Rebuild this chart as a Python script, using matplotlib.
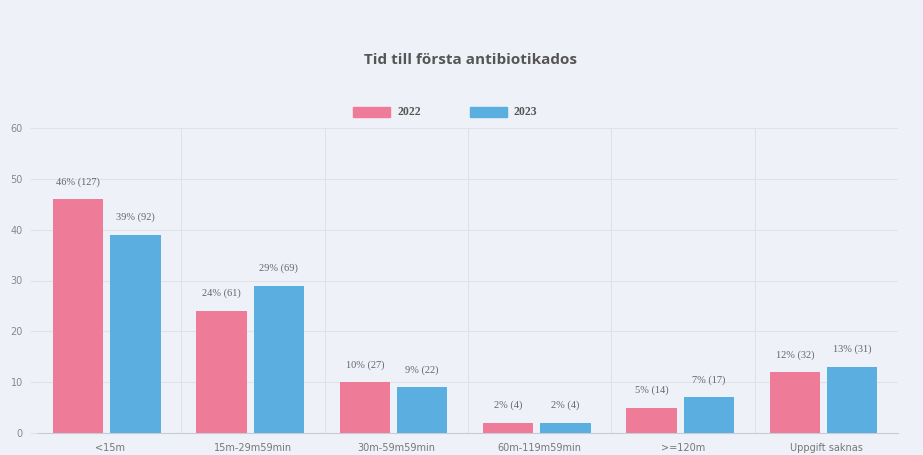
import matplotlib
matplotlib.use("Agg")
import matplotlib.pyplot as plt
import numpy as np
from matplotlib.patches import Rectangle

categories = ["<15m", "15m-29m59min", "30m-59m59min", "60m-119m59min", ">=120m", "Uppgift saknas"]
years = ["2022", "2023"]
pct_2022 = [46, 24, 10, 2, 5, 12]
cnt_2022 = [127, 61, 27, 4, 14, 32]
pct_2023 = [39, 29, 9, 2, 7, 13]
cnt_2023 = [92, 69, 22, 4, 17, 31]
y_ticks = [0, 10, 20, 30, 40, 50, 60]

bg = "#eff1f8"
pink = "#ee7b97"
blue = "#5aaee0"
grid_c = "#dfe2eb"
text_c = "#666666"

W, H = 923, 455
fig = plt.figure(figsize=(W / 100, H / 100), dpi=100, facecolor=bg)
ax = fig.add_axes([38 / W, 22 / H, 860 / W, 305 / H], facecolor=bg)

x = np.arange(len(categories))
off = 0.2
bw = 0.35
series = [(pct_2022, cnt_2022, pink), (pct_2023, cnt_2023, blue)]
for i, (pct, cnt, col) in enumerate(series):
    xs = x + (-off if i == 0 else off) - 0.02
    ax.bar(xs, pct, width=bw, color=col, zorder=3)
    for xi, p, c in zip(xs, pct, cnt):
        ax.annotate(f"{p}% ({c})", (xi, p), xytext=(0, 9), textcoords="offset points",
                    ha="center", va="bottom", fontsize=7.5, family="Liberation Serif",
                    color=text_c, zorder=4)

ax.set_xlim(-0.5, len(categories) - 0.5)
ax.set_ylim(0, 60)
ax.set_yticks(y_ticks)
ax.set_yticklabels([str(t) for t in y_ticks])
ax.set_xticks(x)
ax.set_xticklabels(categories)
ax.tick_params(axis="y", length=6, color=grid_c, labelsize=7, labelcolor="#888888", pad=5)
ax.tick_params(axis="x", length=0, labelsize=7, labelcolor="#777777", pad=7)

for t in y_ticks:
    ax.axhline(t, color=grid_c, lw=0.8, zorder=1)
for b in np.arange(0.5, len(categories) - 0.5, 1):
    ax.axvline(b, color=grid_c, lw=0.8, zorder=1)

for s in ["top", "right", "left"]:
    ax.spines[s].set_visible(False)
ax.spines["bottom"].set_color("#c8ccd6")
ax.spines["bottom"].set_linewidth(0.8)

fig.text(471 / W, 1 - 60 / H, "Tid till första antibiotikados", ha="center", va="center",
         fontsize=11, fontweight="bold", color="#555555", family="Open Sans")

# legend
for lx, tx, lab, col in [(353, 398, years[0], pink), (470, 513, years[1], blue)]:
    fig.add_artist(Rectangle((lx / W, 1 - 117 / H), 37 / W, 10 / H, transform=fig.transFigure,
                             color=col))
    fig.text(tx / W, 1 - 112 / H, lab, ha="left", va="center", fontsize=8.5,
             fontweight="bold", color="#555555", family="Liberation Serif")

fig.savefig("out.png", dpi=100, facecolor=bg)
